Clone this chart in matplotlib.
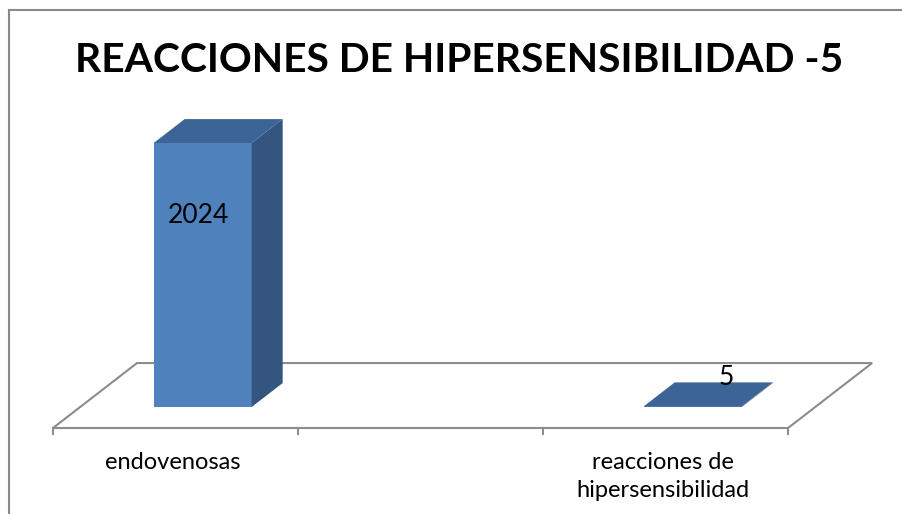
import matplotlib.pyplot as plt
from matplotlib.patches import Polygon
from matplotlib.lines import Line2D

plt.rcParams['font.family'] = ['Lato', 'DejaVu Sans']

# data
categories = ['endovenosas', '', 'reacciones de\nhipersensibilidad']
values = [2024, None, 5]
title = 'REACCIONES DE HIPERSENSIBILIDAD -5'

# 3d look: depth direction in data units, bar sits between d0 and d1
DX = 0.343
DY = 498.0
d0, d1 = 0.323, 0.692
bar_w = 0.40
front_c = '#4F81BD'
side_c = '#33557F'
top_c = '#3C6496'
floor_c = '#8C8C8C'
label_offsets = {0: (-3, -52), 2: (24, 21)}

fig = plt.figure(figsize=(9.03, 5.14), dpi=100)
ax = fig.add_axes([40 / 903, 74 / 514, 850 / 903, 340 / 514])
ax.set_xlim(-0.553, 2.916)
ax.set_ylim(-92, 2515)
ax.axis('off')

n = len(categories)
x0, x1 = -0.5, n - 0.5

# floor
floor = Polygon([(x0, 0), (x1, 0), (x1 + DX, DY), (x0 + DX, DY)],
                closed=True, facecolor='white', edgecolor=floor_c, lw=1.5, zorder=1)
ax.add_patch(floor)
for k in range(n + 1):
    ax.plot([x0 + k, x0 + k], [0, -46], color=floor_c, lw=1.5, zorder=1, clip_on=False)

# bars
bd = d1 - d0
for i, v in enumerate(values):
    if v is None:
        continue
    xc = i + d0 * DX
    base = d0 * DY
    xl, xr = xc - bar_w / 2, xc + bar_w / 2
    top = base + v
    ax.bar(xc, v, bottom=base, width=bar_w, color=front_c, zorder=3)
    ax.add_patch(Polygon([(xl, top), (xr, top), (xr + bd * DX, top + bd * DY),
                          (xl + bd * DX, top + bd * DY)], closed=True,
                         facecolor=top_c, edgecolor='none', zorder=3))
    ax.add_patch(Polygon([(xr, base), (xr + bd * DX, base + bd * DY),
                          (xr + bd * DX, top + bd * DY), (xr, top)], closed=True,
                         facecolor=side_c, edgecolor='none', zorder=3))
    ox, oy = label_offsets[i]
    ax.annotate(str(v), xy=(xc, top), xytext=(ox, oy), textcoords='offset points',
                ha='center', va='center', fontsize=19, zorder=5)

# category labels
for i, c in enumerate(categories):
    ax.annotate(c, xy=(i - 0.01, 0), xytext=(0, -17), textcoords='offset points',
                ha='center', va='top', fontsize=17, linespacing=1.45)

fig.text(459 / 903, 1 - 72 / 514, title, ha='center', va='baseline',
         fontsize=29.3, fontweight='bold')

# chart border
fig.add_artist(Line2D([9 / 903, 9 / 903], [0, 1 - 9.5 / 514], color='#888888', lw=1.5))
fig.add_artist(Line2D([9 / 903, 1], [1 - 9.5 / 514, 1 - 9.5 / 514], color='#888888', lw=1.5))

fig.savefig('out.png', dpi=100)
